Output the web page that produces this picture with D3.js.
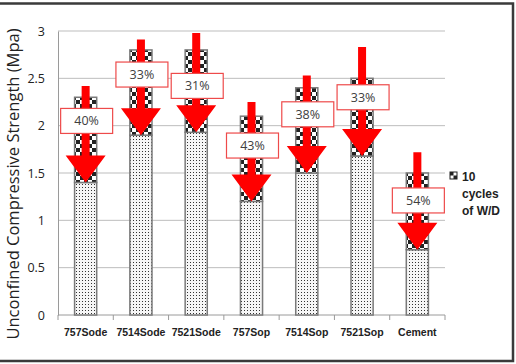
<!DOCTYPE html>
<html>
<head>
<meta charset="utf-8">
<script src="https://cdn.jsdelivr.net/npm/d3@7"></script>
<style>
  body { margin: 0; background: #fff; }
  svg { display: block; }
</style>
</head>
<body>
<svg width="516" height="364"></svg>
<script>
// data
var categories = ["757Sode", "7514Sode", "7521Sode", "757Sop", "7514Sop", "7521Sop", "Cement"];
var afterWD = [1.4, 1.9, 1.93, 1.2, 1.5, 1.68, 0.69];     // strength after 10 cycles (dotted part)
var before = [2.3, 2.8, 2.8, 2.1, 2.4, 2.5, 1.5];          // initial strength (bar top)
var lossLabels = ["40%", "33%", "31%", "43%", "38%", "33%", "54%"];
var arrowTop = [2.42, 2.91, 2.98, 2.25, 2.53, 2.83, 1.72]; // where each red arrow starts
var labelAt = [2.05, 2.54, 2.42, 1.79, 2.12, 2.30, 1.21];  // value at label box centre
var yTicks = [0, 0.5, 1, 1.5, 2, 2.5, 3];

var svg = d3.select("svg");

var x = d3.scaleBand()
    .domain(categories)
    .range([58, 445])
    .paddingInner(0.6)
    .paddingOuter(0.3);

var y = d3.scaleLinear()
    .domain([0, 3])
    .range([315, 31]);

// fill patterns
var defs = svg.append("defs");
var dots = defs.append("pattern")
    .attr("id", "dots")
    .attr("width", 3).attr("height", 3)
    .attr("patternUnits", "userSpaceOnUse");
dots.append("rect").attr("width", 3).attr("height", 3).attr("fill", "#f6f6f6");
dots.append("rect").attr("x", 1).attr("y", 1).attr("width", 1).attr("height", 1).attr("fill", "#333");

var checks = defs.append("pattern")
    .attr("id", "checks")
    .attr("width", 8).attr("height", 8)
    .attr("patternUnits", "userSpaceOnUse");
checks.append("rect").attr("width", 8).attr("height", 8).attr("fill", "#fff");
checks.append("rect").attr("width", 4).attr("height", 4).attr("fill", "#222");
checks.append("rect").attr("x", 4).attr("y", 4).attr("width", 4).attr("height", 4).attr("fill", "#222");

// frame
svg.append("path")
    .attr("d", "M0,3.5H513V361H0")
    .attr("fill", "none")
    .attr("stroke", "#3a3a3a")
    .attr("stroke-width", 2.5);

// grid lines
svg.append("g")
  .selectAll("line")
  .data(yTicks.slice(1))
  .enter().append("line")
    .attr("x1", 58).attr("x2", 445)
    .attr("y1", function(d) { return y(d); })
    .attr("y2", function(d) { return y(d); })
    .attr("stroke", "#bdbdbd")
    .attr("stroke-width", 1);

// y axis
var yAxis = svg.append("g")
    .attr("transform", "translate(58,0)")
    .call(d3.axisLeft(y).tickValues(yTicks).tickSize(0).tickPadding(13)
      .tickFormat(function(d) { return d; }));
yAxis.select(".domain").attr("stroke", "#9a9a9a");
yAxis.selectAll("text")
    .attr("font-family", "Open Sans, sans-serif")
    .attr("font-size", 12.5)
    .attr("fill", "#222");

// x axis
var step = x.step();
var xAxis = svg.append("g")
    .attr("transform", "translate(0,315)");
xAxis.append("line")
    .attr("x1", 58).attr("x2", 445)
    .attr("stroke", "#9a9a9a");
xAxis.selectAll(".tk")
  .data(d3.range(categories.length + 1))
  .enter().append("line")
    .attr("class", "tk")
    .attr("x1", function(i) { return 58 + i * step; })
    .attr("x2", function(i) { return 58 + i * step; })
    .attr("y1", 0).attr("y2", 5)
    .attr("stroke", "#9a9a9a");
xAxis.selectAll("text")
  .data(categories)
  .enter().append("text")
    .attr("x", function(d) { return x(d) + x.bandwidth() / 2; })
    .attr("y", 21)
    .attr("text-anchor", "middle")
    .attr("font-family", "Liberation Sans, sans-serif")
    .attr("font-weight", "bold")
    .attr("font-size", 10.5)
    .attr("fill", "#222")
    .text(function(d) { return d; });

// axis title
svg.append("text")
    .attr("transform", "translate(19,184) rotate(-90)")
    .attr("text-anchor", "middle")
    .attr("font-family", "Open Sans, sans-serif")
    .attr("font-size", 16.5)
    .attr("fill", "#222")
    .text("Unconfined Compressive Strength (Mpa)");

// bars: dotted lower part, checkered upper part
var bars = svg.append("g");
categories.forEach(function(c, i) {
  bars.append("rect")
      .attr("x", x(c))
      .attr("width", x.bandwidth())
      .attr("y", y(afterWD[i]))
      .attr("height", y(0) - y(afterWD[i]))
      .attr("fill", "url(#dots)")
      .attr("stroke", "#7a7a7a")
      .attr("stroke-width", 1.5);
  bars.append("rect")
      .attr("x", x(c))
      .attr("width", x.bandwidth())
      .attr("y", y(before[i]))
      .attr("height", y(afterWD[i]) - y(before[i]))
      .attr("fill", "url(#checks)")
      .attr("stroke", "#7a7a7a")
      .attr("stroke-width", 1.5);
});

// red arrows
var arrows = svg.append("g");
categories.forEach(function(c, i) {
  var cx = x(c) + x.bandwidth() / 2;
  var tip = y(afterWD[i]);
  var top = y(arrowTop[i]);
  var headH = 27, headW = 20, shaftW = 4;
  arrows.append("path")
      .attr("d", "M" + (cx - shaftW) + "," + top +
                 "H" + (cx + shaftW) +
                 "V" + (tip - headH) +
                 "H" + (cx + headW) +
                 "L" + cx + "," + tip +
                 "L" + (cx - headW) + "," + (tip - headH) +
                 "H" + (cx - shaftW) + "Z")
      .attr("fill", "#ff0000");
});

// percentage labels
var labels = svg.append("g");
categories.forEach(function(c, i) {
  var cx = x(c) + x.bandwidth() / 2 + 1;
  var cy = y(labelAt[i]);
  labels.append("rect")
      .attr("x", cx - 26).attr("y", cy - 12.5)
      .attr("width", 52).attr("height", 25)
      .attr("fill", "#fff")
      .attr("stroke", "#ee4a4a")
      .attr("stroke-width", 1.2);
  labels.append("text")
      .attr("x", cx).attr("y", cy + 4.5)
      .attr("text-anchor", "middle")
      .attr("font-family", "Open Sans, sans-serif")
      .attr("font-size", 12.5)
      .attr("fill", "#404040")
      .text(lossLabels[i]);
});

// legend
var legend = svg.append("g").attr("transform", "translate(450,172)");
legend.append("rect").attr("width", 7).attr("height", 7).attr("fill", "#fff").attr("stroke", "#222");
legend.append("rect").attr("width", 3.5).attr("height", 3.5).attr("fill", "#222");
legend.append("rect").attr("x", 3.5).attr("y", 3.5).attr("width", 3.5).attr("height", 3.5).attr("fill", "#222");
legend.selectAll("text")
  .data(["10", "cycles", "of W/D"])
  .enter().append("text")
    .attr("x", 12)
    .attr("y", function(d, i) { return 9 + i * 17; })
    .attr("font-family", "Liberation Sans, sans-serif")
    .attr("font-weight", "bold")
    .attr("font-size", 12)
    .attr("fill", "#222")
    .text(function(d) { return d; });
</script>
</body>
</html>
